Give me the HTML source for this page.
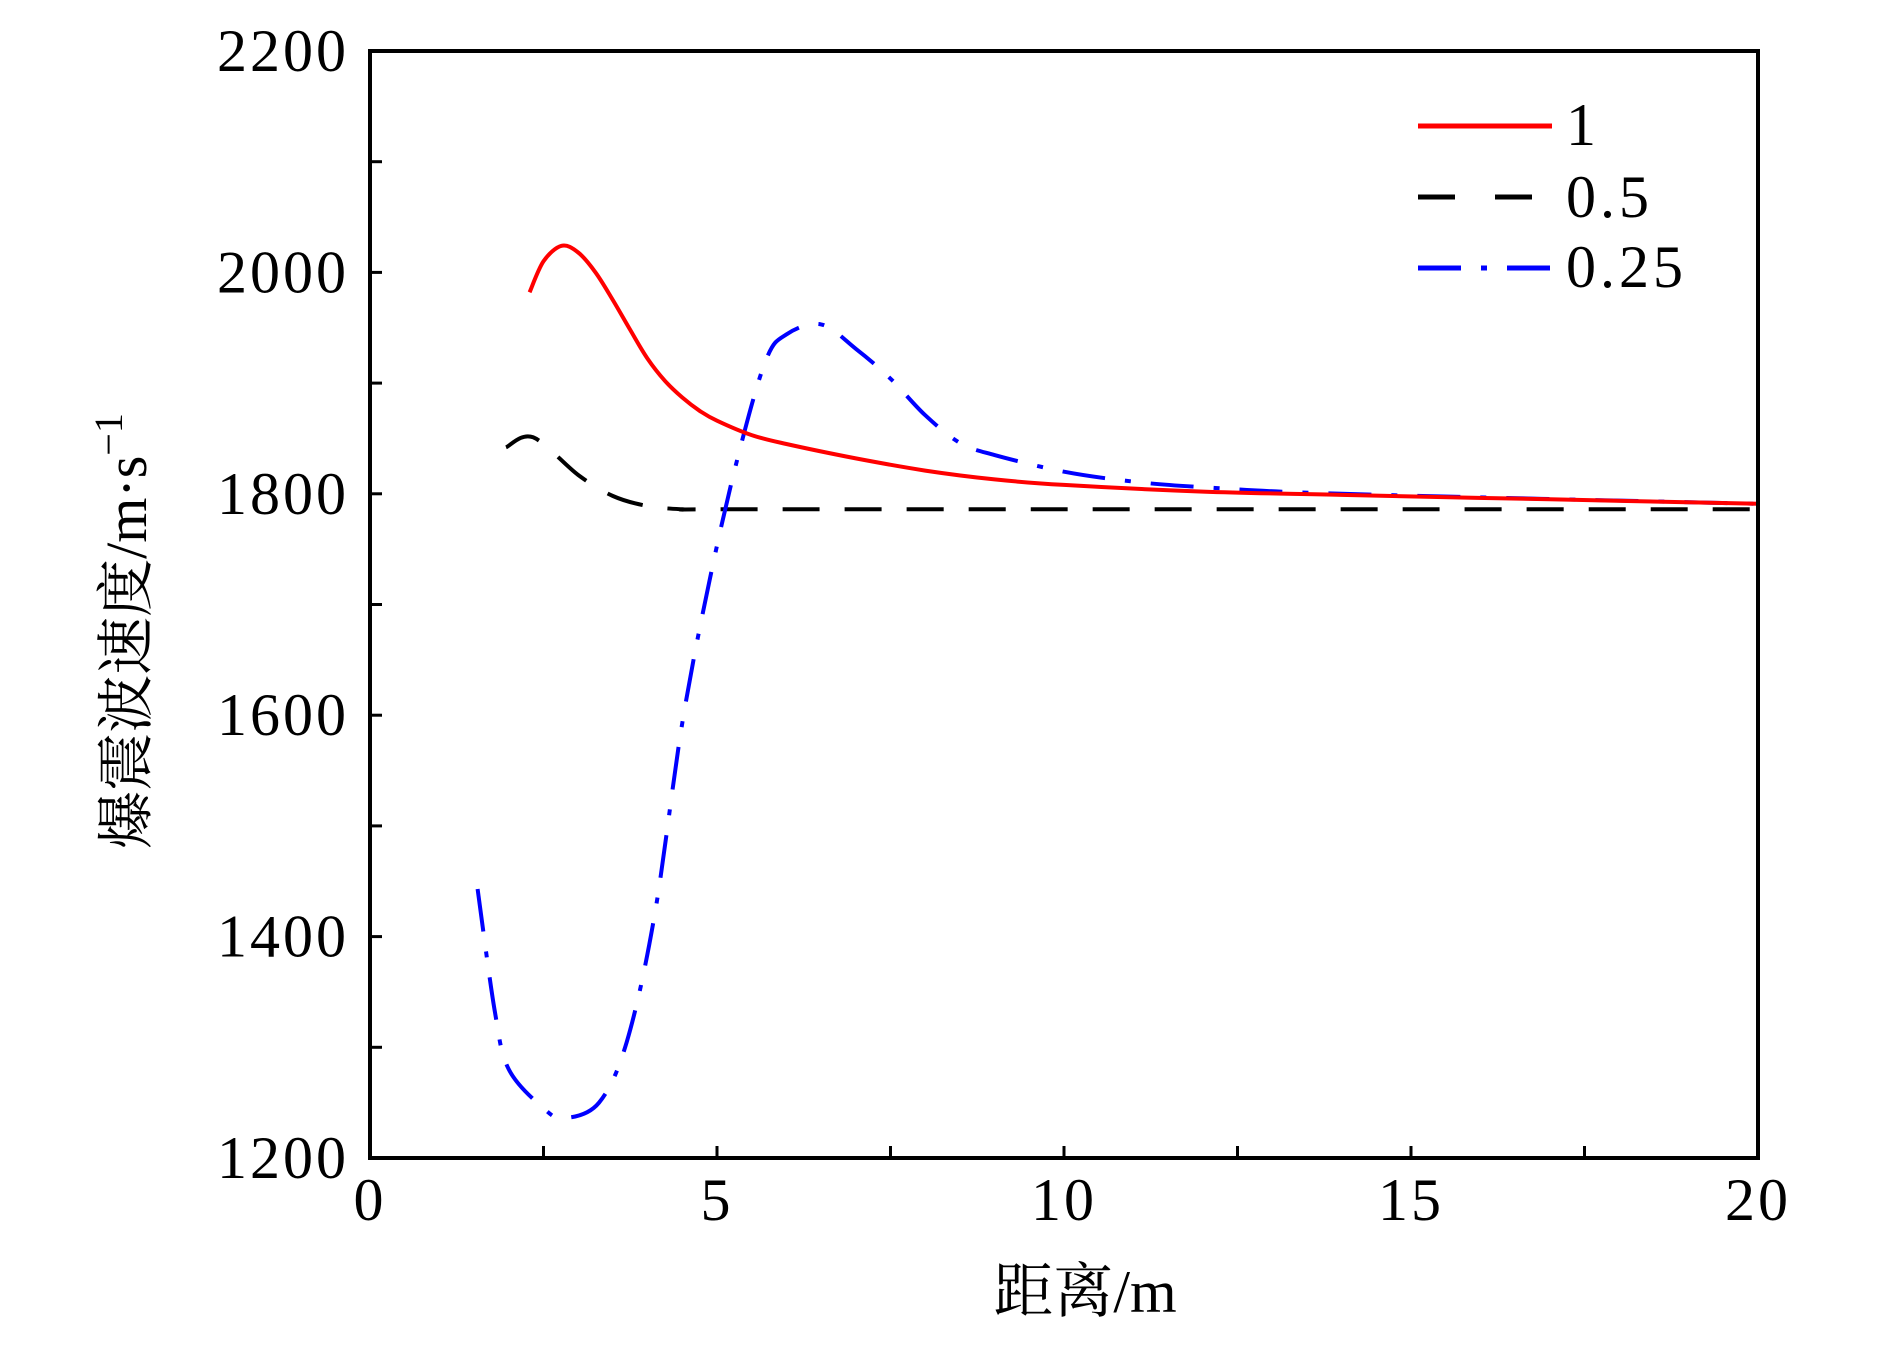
<!DOCTYPE html>
<html><head><meta charset="utf-8"><style>
html,body{margin:0;padding:0;background:#fff;}
svg{display:block;}
text{font-family:"Liberation Serif","Noto Serif CJK SC",serif;fill:#000;}
</style></head><body>
<svg id="chart" width="1890" height="1347" viewBox="0 0 1890 1347">
<g id="marks"></g>
<rect x="370" y="51" width="1388" height="1107" fill="none" stroke="#000" stroke-width="4"/>
<g id="axes"></g>
<text x="146" y="631" font-size="58" text-anchor="middle" transform="rotate(-90 146 631)">爆震波速度/m·s<tspan dy="-24" font-size="40">−1</tspan></text>
<text x="1085" y="1312" font-size="60" text-anchor="middle">距离/m</text>
<g>
<line x1="1418" y1="126" x2="1552" y2="126" stroke="#f00" stroke-width="5"/>
<text x="1566" y="145" font-size="60" letter-spacing="4">1</text>
<line x1="1418" y1="197" x2="1552" y2="197" stroke="#000" stroke-width="5" stroke-dasharray="37,40"/>
<text x="1566" y="217" font-size="60" letter-spacing="4">0.5</text>
<line x1="1418" y1="268" x2="1552" y2="268" stroke="#00f" stroke-width="5" stroke-dasharray="43,20,6,20"/>
<text x="1566" y="287" font-size="60" letter-spacing="4">0.25</text>
</g>
</svg>
<script>
const xTicks=[0,5,10,15,20];
const yTicks=[1200,1400,1600,1800,2000,2200];
const redX=[2.3,2.5,2.76,3,3.25,3.5,3.75,4,4.25,4.5,4.75,5,5.5,6,7,8,9,10,12,14,17,20];
const redY=[1982,2010,2024,2018,2000,1975,1948,1922,1902,1887,1875,1866,1853,1845,1832,1821,1813,1808,1802,1799,1795,1791];
const blackX=[1.96,2.35,3,3.5,4,4.5,5,10,15,20];
const blackY=[1842,1851,1817,1798,1789,1786,1786,1786,1786,1786];
const blueX=[1.55,1.8,2,2.5,2.8,3.3,3.7,4.1,4.5,4.9,5.3,5.7,6,6.5,7,7.5,8,8.5,9,10,11,12,14,20];
const blueY=[1443,1332,1280,1245,1236,1250,1305,1419,1593,1724,1833,1920,1944,1953,1931,1904,1871,1846,1835,1820,1811,1806,1800,1791];
const NS='http://www.w3.org/2000/svg';
const X0=370,X1=1758,Y0=1158,Y1=51;
function sx(v){return X0+(v-0)/(20-0)*(X1-X0);}
function sy(v){return Y0-(v-1200)/(2200-1200)*(Y0-Y1);}
const axes=document.getElementById('axes'),marks=document.getElementById('marks');
function mk(tag,attrs,parent){const e=document.createElementNS(NS,tag);for(const k in attrs)e.setAttribute(k,attrs[k]);parent.appendChild(e);return e;}
xTicks.forEach((t,i)=>{
  const l=mk('line',{x1:sx(t),x2:sx(t),y1:Y0,y2:Y0-12,stroke:'#000','stroke-width':3},axes);
  
  
  if(i<xTicks.length-1){const m=mk('line',{x1:sx(t+2.5),x2:sx(t+2.5),y1:Y0,y2:Y0-12,stroke:'#000','stroke-width':3},axes);
  
  }
  const tx=mk('text',{x:sx(t),y:1220,'font-size':60,'letter-spacing':3,'text-anchor':'middle'},axes);tx.textContent=t;
  
  
});
yTicks.forEach((t,i)=>{
  const l=mk('line',{x1:X0,x2:X0+12,y1:sy(t),y2:sy(t),stroke:'#000','stroke-width':3},axes);
  
  
  if(i<yTicks.length-1){const m=mk('line',{x1:X0,x2:X0+12,y1:sy(t+100),y2:sy(t+100),stroke:'#000','stroke-width':3},axes);
  
  }
  const tx=mk('text',{x:349,y:sy(t)+20,'font-size':60,'letter-spacing':3,'text-anchor':'end'},axes);tx.textContent=t;
  
  
});
function smoothPath(xs,ys){
  const p=xs.map((x,i)=>[sx(x),sy(ys[i])]);
  let d='M'+p[0][0].toFixed(1)+','+p[0][1].toFixed(1);
  for(let i=0;i<p.length-1;i++){
    const p0=p[Math.max(0,i-1)],p1=p[i],p2=p[i+1],p3=p[Math.min(p.length-1,i+2)];
    const c1=[p1[0]+(p2[0]-p0[0])/6,p1[1]+(p2[1]-p0[1])/6];
    const c2=[p2[0]-(p3[0]-p1[0])/6,p2[1]-(p3[1]-p1[1])/6];
    d+=' C'+c1[0].toFixed(1)+','+c1[1].toFixed(1)+' '+c2[0].toFixed(1)+','+c2[1].toFixed(1)+' '+p2[0].toFixed(1)+','+p2[1].toFixed(1);
  }
  return d;
}
function series(xs,ys,color,dash,name){
  const p=mk('path',{d:smoothPath(xs,ys),fill:'none',stroke:color,'stroke-width':4,'stroke-linejoin':'round'},marks);
  if(dash)p.setAttribute('stroke-dasharray',dash);
  
  
}
series(blackX,blackY,'#000','37,25','series-0-5');
series(blueX,blueY,'#00f','43,20,6,20','series-0-25');
series(redX,redY,'#f00',null,'series-1');
</script>
</body></html>
